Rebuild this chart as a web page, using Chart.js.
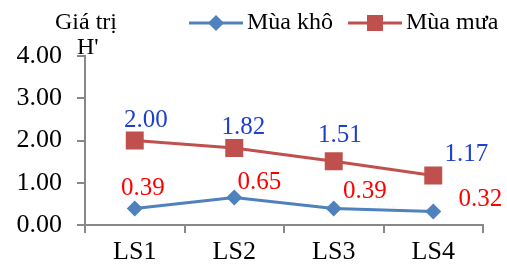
<!DOCTYPE html>
<html>
<head>
<meta charset="utf-8">
<script src="https://cdn.jsdelivr.net/npm/chart.js@4/dist/chart.umd.min.js"></script>
<style>
  body { margin: 0; background: #fff; }
  #wrap { width: 507px; height: 269px; }
</style>
</head>
<body>
<div id="wrap"><canvas id="line_chart" width="507" height="269"></canvas></div>
<script>
var stations = ["LS1", "LS2", "LS3", "LS4"];
var drySeason = [0.39, 0.65, 0.39, 0.32];
var rainySeason = [2.00, 1.82, 1.51, 1.17];
var yTicks = [0, 1, 2, 3, 4];

var serif = "'Liberation Serif', 'Times New Roman', serif";

// value labels, drawn next to each point (offsets are in pixels)
var valueLabels = {
    id: "valueLabels",
    afterDatasetsDraw: function(chart) {
        var ctx = chart.ctx;
        ctx.save();
        ctx.font = "25px " + serif;
        ctx.textAlign = "center";
        ctx.textBaseline = "middle";
        chart.data.datasets.forEach(function(ds, di) {
            var meta = chart.getDatasetMeta(di);
            ctx.fillStyle = ds.labelColor;
            meta.data.forEach(function(pt, i) {
                var off = ds.labelOffsets[i];
                ctx.fillText(ds.data[i].toFixed(2), pt.x + off[0], pt.y + off[1]);
            });
        });
        ctx.restore();
    }
};

// axis title and legend at the top
var topTexts = {
    id: "topTexts",
    afterDraw: function(chart) {
        var ctx = chart.ctx;
        ctx.save();
        ctx.fillStyle = "#000";
        ctx.textBaseline = "middle";
        ctx.textAlign = "left";
        ctx.font = "24px " + serif;
        ctx.fillText("Giá trị", 55, 23);
        ctx.fillText("H'", 77, 48);

        var items = [
            {x: 189, ds: chart.data.datasets[0]},
            {x: 348, ds: chart.data.datasets[1]}
        ];
        items.forEach(function(it) {
            var y = 23;
            ctx.strokeStyle = it.ds.borderColor;
            ctx.lineWidth = 3;
            ctx.beginPath();
            ctx.moveTo(it.x, y);
            ctx.lineTo(it.x + 54, y);
            ctx.stroke();
            ctx.fillStyle = it.ds.borderColor;
            var cx = it.x + 27;
            if (it.ds.pointStyle === "rectRot") {
                ctx.beginPath();
                ctx.moveTo(cx, y - 8);
                ctx.lineTo(cx + 8, y);
                ctx.lineTo(cx, y + 8);
                ctx.lineTo(cx - 8, y);
                ctx.closePath();
                ctx.fill();
            } else {
                ctx.fillRect(cx - 8, y - 8, 16, 16);
            }
            ctx.fillStyle = "#000";
            ctx.fillText(it.ds.label, it.x + 58, y);
        });
        ctx.restore();
    }
};

var ctx = document.getElementById("line_chart").getContext("2d");
var myChart = new Chart(ctx, {
    type: "line",
    data: {
        labels: stations,
        datasets: [{
            label: "Mùa khô",
            data: drySeason,
            borderColor: "#4F81BD",
            backgroundColor: "#4F81BD",
            borderWidth: 3,
            pointStyle: "rectRot",
            pointRadius: 8,
            pointHoverRadius: 8,
            pointBorderWidth: 0,
            fill: false,
            labelColor: "#FF0000",
            labelOffsets: [[8, -20], [25, -15], [31, -17], [47, -12]]
        }, {
            label: "Mùa mưa",
            data: rainySeason,
            borderColor: "#C0504D",
            backgroundColor: "#C0504D",
            borderWidth: 3,
            pointStyle: "rect",
            pointRadius: 12.7,
            pointHoverRadius: 12.7,
            pointBorderWidth: 0,
            fill: false,
            labelColor: "#1F3FCC",
            labelOffsets: [[11, -20], [9, -21], [6, -26], [33, -21]]
        }]
    },
    options: {
        responsive: false,
        animation: false,
        layout: { padding: { top: 56, right: 24, left: 0, bottom: 0 } },
        plugins: {
            legend: { display: false },
            tooltip: { enabled: false }
        },
        scales: {
            x: {
                offset: true,
                grid: { offset: true, drawOnChartArea: false, drawTicks: true, tickLength: 8, color: "#888", lineWidth: 2 },
                border: { color: "#888", width: 2 },
                ticks: { color: "#000", font: { family: serif, size: 26 }, padding: 4 },
                afterFit: function(scale) { scale.height = 44; }
            },
            y: {
                min: 0,
                max: 4,
                afterBuildTicks: function(scale) {
                    scale.ticks = yTicks.map(function(v) { return {value: v}; });
                },
                grid: { drawOnChartArea: false, drawTicks: true, tickLength: 8, color: "#888", lineWidth: 2 },
                border: { color: "#888", width: 2 },
                ticks: {
                    color: "#000",
                    font: { family: serif, size: 26 },
                    padding: 15,
                    callback: function(v) { return Number(v).toFixed(2); }
                },
                afterFit: function(scale) { scale.width = 85; }
            }
        }
    },
    plugins: [valueLabels, topTexts]
});
</script>
</body>
</html>
